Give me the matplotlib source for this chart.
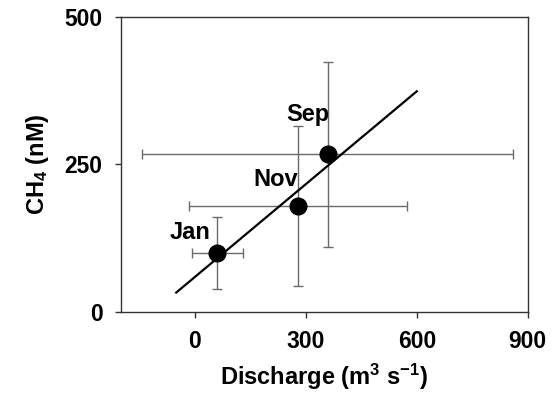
import matplotlib
matplotlib.use("Agg")
import matplotlib.pyplot as plt

plt.rcParams['font.family'] = ['Liberation Sans', 'DejaVu Sans']
plt.rcParams['mathtext.fontset'] = 'custom'
plt.rcParams['mathtext.rm'] = 'Liberation Sans:bold'
plt.rcParams['mathtext.it'] = 'Liberation Sans:bold'
plt.rcParams['mathtext.bf'] = 'Liberation Sans:bold'

# data
months = ["Jan", "Nov", "Sep"]
discharge = [61, 279, 359]
discharge_err = [69, 294, 501]
ch4 = [100, 180, 267]
ch4_err = [61, 136, 156]

fit_x = [-50, 600]
fit_y = [33, 374]

# where the month names sit (data coords)
label_x = [-13, 219, 306]
label_y = [134, 224, 334]

fig = plt.figure(figsize=(5.55, 3.94), dpi=100)
ax = fig.add_axes([0.2175, 0.208, 0.7335, 0.749])

ax.errorbar(discharge, ch4, xerr=discharge_err, yerr=ch4_err, fmt='none',
            ecolor='#6a6a6a', elinewidth=1.0, capsize=3.5, capthick=1.0, zorder=1)
ax.plot(fit_x, fit_y, color='black', lw=1.6, zorder=2)
ax.plot(discharge, ch4, 'o', color='black', markersize=12, zorder=3)

for m, x, y in zip(months, label_x, label_y):
    ax.text(x, y, m, fontsize=17, fontweight='bold', ha='center', va='center')

ax.set_xlim(-200, 900)
ax.set_ylim(0, 500)
ax.set_xticks([0, 300, 600, 900])
ax.set_yticks([0, 250, 500])
ax.tick_params(direction='out', length=4, width=1, labelsize=16.5, pad=9, color='#333333')
for lab in ax.get_xticklabels() + ax.get_yticklabels():
    lab.set_fontweight('bold')
for s in ax.spines.values():
    s.set_linewidth(1.0)
    s.set_color('#333333')

ax.set_xlabel("Discharge (m$^3$ s$^{-1}$)", fontsize=17, fontweight='bold', labelpad=6)
ax.set_ylabel("CH$_4$ (nM)", fontsize=17, fontweight='bold', labelpad=10)

fig.savefig("out.png", dpi=100)
